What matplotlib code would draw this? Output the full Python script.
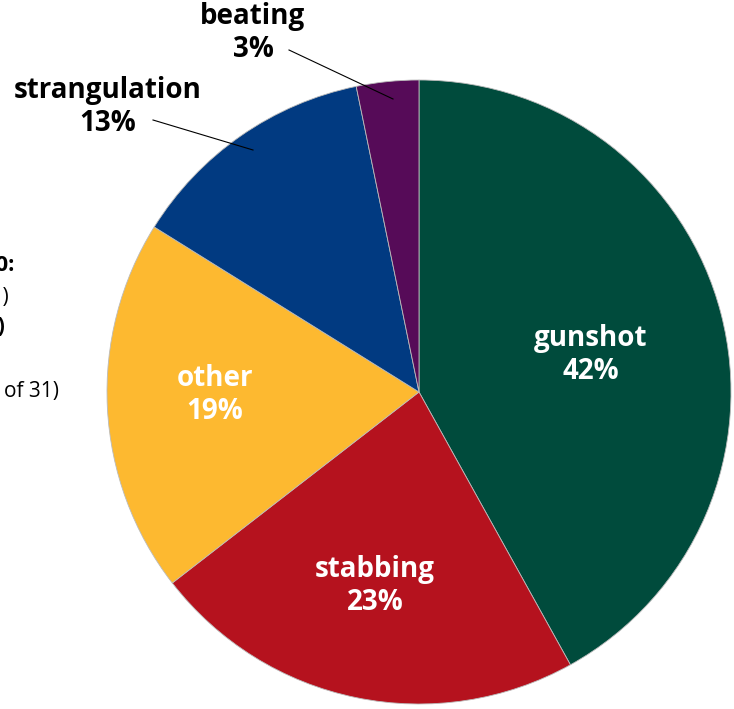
import numpy as np
import matplotlib.pyplot as plt

plt.rcParams['font.family'] = ['Open Sans', 'DejaVu Sans']

# data
methods = ['gunshot', 'stabbing', 'other', 'strangulation', 'beating']
counts = [13, 7, 6, 4, 1]
pct_labels = ['42%', '23%', '19%', '13%', '3%']
colors = ['#004b3c', '#b5121e', '#fdb930', '#013a81', '#560b58']

W, H = 734, 709
fig = plt.figure(figsize=(W / 100, H / 100), dpi=100)
ax = fig.add_axes([0, 0, 1, 1])

cx, cy, r = 419, H - 392, 312
wedges, _ = ax.pie(counts, colors=colors, startangle=90, counterclock=False,
                   radius=r, center=(cx, cy),
                   wedgeprops=dict(linewidth=0.6, edgecolor='#bbbbbb'))
ax.set_xlim(0, W)
ax.set_ylim(0, H)
ax.set_aspect('equal')
ax.axis('off')

# labels inside (white) and outside (black), positions in pixels from top
inside = {'gunshot': (591, 355), 'stabbing': (375, 586), 'other': (215, 395)}
outside = {'strangulation': (108, 107), 'beating': (253, 33)}
for name, pct in zip(methods, pct_labels):
    if name in inside:
        x, y = inside[name]
        col = 'white'
    else:
        x, y = outside[name]
        col = 'black'
    ax.text(x, H - y, name + '\n' + pct, ha='center', va='center', color=col,
            fontsize=20, fontweight='bold', linespacing=1.2)

# leader lines
ax.plot([153, 253], [H - 120, H - 150], color='black', lw=0.8)
ax.plot([289, 393], [H - 50, H - 99], color='black', lw=0.8)

# side text cut off at the left edge
ax.text(14, H - 265, 'Homicides, 2010:', ha='right', va='center', fontsize=16,
        fontweight='bold', clip_on=False)
ax.text(9, H - 297, '(n = 31)', ha='right', va='center', fontsize=15, clip_on=False)
ax.text(5, H - 327, '(2010)', ha='right', va='center', fontsize=15,
        fontweight='bold', clip_on=False)
ax.text(59, H - 392, '(cases of 31)', ha='right', va='center', fontsize=15,
        clip_on=False)

fig.savefig('out.png', dpi=100)
